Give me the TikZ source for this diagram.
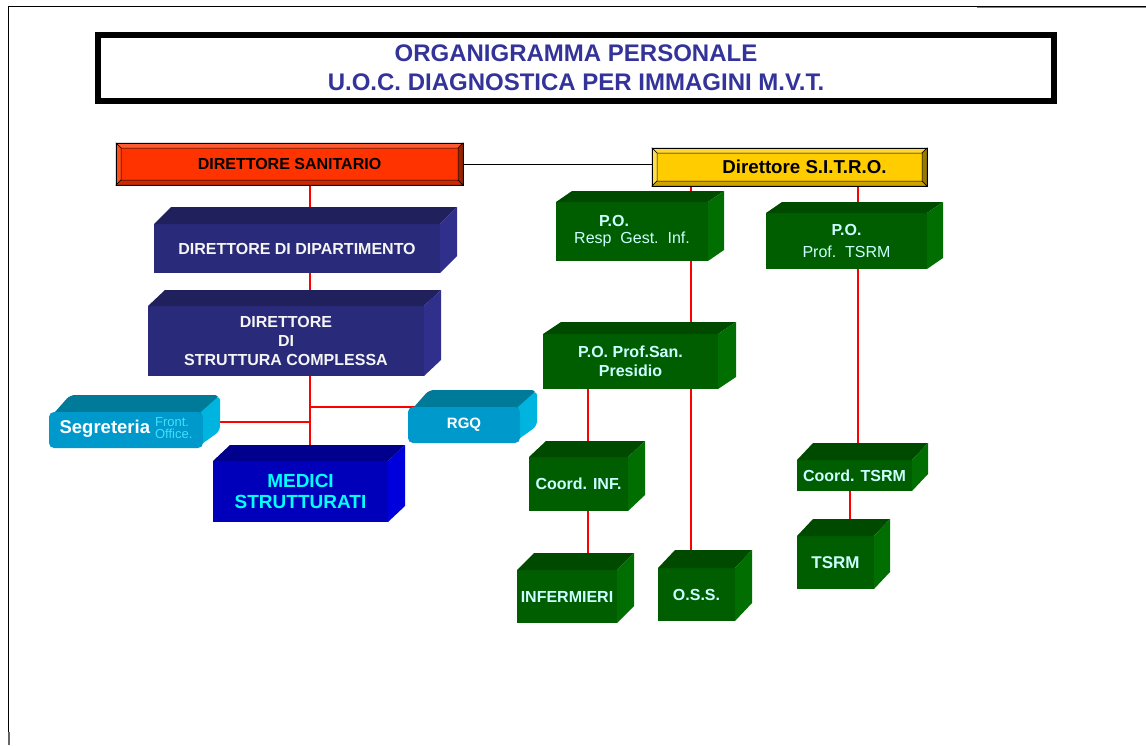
\documentclass[tikz,border=0pt]{standalone}
\usepackage{fontspec}
\setmainfont{Liberation Sans}
\usetikzlibrary{backgrounds,calc}
\definecolor{titleblue}{RGB}{51,51,153}
\definecolor{dsface}{RGB}{255,51,0}
\definecolor{dstop}{RGB}{255,92,51}
\definecolor{dsleft}{RGB}{255,77,26}
\definecolor{dsbot}{RGB}{204,41,0}
\definecolor{dsright}{RGB}{153,34,0}
\definecolor{syface}{RGB}{255,204,0}
\definecolor{sytop}{RGB}{255,214,51}
\definecolor{syleft}{RGB}{255,222,77}
\definecolor{sybot}{RGB}{204,163,0}
\definecolor{syright}{RGB}{153,122,0}
\definecolor{navyfront}{RGB}{42,42,122}
\definecolor{navytop}{RGB}{32,32,92}
\definecolor{navyside}{RGB}{48,48,140}
\definecolor{cyfront}{RGB}{0,153,204}
\definecolor{cytop}{RGB}{0,122,153}
\definecolor{cyside}{RGB}{0,180,224}
\definecolor{cysmall}{RGB}{64,224,255}
\definecolor{bfront}{RGB}{0,0,187}
\definecolor{btop}{RGB}{0,0,140}
\definecolor{bside}{RGB}{0,0,221}
\definecolor{gfront}{RGB}{0,94,0}
\definecolor{gtop}{RGB}{0,74,0}
\definecolor{gside}{RGB}{0,110,0}
\definecolor{gtext}{RGB}{204,255,255}
\definecolor{linered}{RGB}{255,0,0}
\pgfdeclarelayer{lines}
\pgfdeclarelayer{faces}
\pgfsetlayers{lines,faces,main}
\newcommand\fs[2]{\fontsize{#1}{#2}\selectfont}
\newcommand\frontbox[7]{%
  \node[frontbox, #6, minimum width={#4-#2}, minimum height={#5-#3}] (#1) at (#2,#3) {#7};}
\newcommand\cubefaces[5]{%
  \fill[#4] (#1.north west) -- ++(#2,-#3) -- ([shift={(#2,-#3)}]#1.north east) -- (#1.north east) -- cycle;
  \fill[#5] (#1.north east) -- ++(#2,-#3) -- ([shift={(#2,-#3)}]#1.south east) -- (#1.south east) -- cycle;}
\newcommand\roundcubefaces[5]{%
  \begin{pgfonlayer}{faces}
  \fill[#4] ([shift={(6,0)}]#1.north west) [rounded corners=5pt] -- ([shift={(#2+4,-#3)}]#1.north west) -- ([shift={(#2,-#3)}]#1.north east) [sharp corners] -- ([shift={(0,8)}]#1.north east) -- ([shift={(-8,8)}]#1.north east) -- cycle;
  \fill[#5] ([shift={(-8,8)}]#1.north east) -- ([shift={(-2,0)}]#1.north east) [rounded corners=5pt] -- ([shift={(#2,-#3)}]#1.north east) -- ([shift={(#2,-#3)}]#1.south east) [sharp corners] -- ([shift={(-4,-2)}]#1.south east) -- ([shift={(-8,-2)}]#1.south east) -- cycle;
  \end{pgfonlayer}}
\newcommand\bevelframe[6]{%
  \filldraw[#3,draw=black,line width=0.5pt] (#1.north west) -- (#1.north east) -- ([shift={(-#2,#2)}]#1.north east) -- ([shift={(#2,#2)}]#1.north west) -- cycle;
  \filldraw[#4,draw=black,line width=0.5pt] (#1.north west) -- ([shift={(#2,#2)}]#1.north west) -- ([shift={(#2,-#2)}]#1.south west) -- (#1.south west) -- cycle;
  \filldraw[#5,draw=black,line width=0.5pt] (#1.south west) -- ([shift={(#2,-#2)}]#1.south west) -- ([shift={(-#2,-#2)}]#1.south east) -- (#1.south east) -- cycle;
  \filldraw[#6,draw=black,line width=0.5pt] (#1.north east) -- (#1.south east) -- ([shift={(-#2,-#2)}]#1.south east) -- ([shift={(-#2,#2)}]#1.north east) -- cycle;
  \draw[black,line width=0.8pt] (#1.north west) rectangle (#1.south east);}
\tikzset{
  frontbox/.style={inner sep=0pt, outer sep=0pt, anchor=north west, align=center},
  redline/.style={draw=linered, line width=2pt},
  blackline/.style={draw=black, line width=0.8pt},
  navy/.style={fill=navyfront, text={rgb,255:red,245;green,245;blue,245}, font=\fs{16}{19}\bfseries},
  green/.style={fill=gfront, text=gtext, font=\fs{16}{19}\bfseries},
  cyanbox/.style={fill=cyfront, rounded corners=5pt, text=white},
}
\begin{document}
\begin{tikzpicture}[x=1pt,y=-1pt]
\useasboundingbox (0,0) rectangle (1146,745);
% page frame
\draw[black,line width=0.9pt] (8,745) -- (8,6) -- (1146,6);
\draw[gray,line width=1.6pt] (977,7.5) -- (1146,7.5);
\draw[gray!80!black,line width=1.6pt] (9,732) -- (9,745);
% title
\node[draw=black, line width=6pt, minimum width=956, minimum height=66, inner sep=0pt, outer sep=0pt,
      align=center, text=titleblue, font=\fs{24}{29}\bfseries] (title) at (576,68)
      {ORGANIGRAMMA PERSONALE\\U.O.C. DIAGNOSTICA PER IMMAGINI M.V.T.};
% bevel boxes
\frontbox{ds}{116}{143}{463}{185}{fill=dsface, font=\fs{16}{19}\bfseries}{DIRETTORE SANITARIO}
\bevelframe{ds}{5}{dstop}{dsleft}{dsbot}{dsright}
\frontbox{sitro}{652}{148}{927}{186}{fill=syface, font=\fs{18.7}{22}\bfseries}{\hspace*{30pt}Direttore S.I.T.R.O.}
\bevelframe{sitro}{5}{sytop}{syleft}{sybot}{syright}
% navy boxes
\frontbox{ddd}{154}{224}{440}{273}{navy}{DIRETTORE DI DIPARTIMENTO}
\cubefaces{ddd}{17}{17}{navytop}{navyside}
\frontbox{dsc}{148}{306}{424}{376}{navy}{DIRETTORE\\DI\\STRUTTURA COMPLESSA}
\cubefaces{dsc}{17}{16}{navytop}{navyside}
% cyan boxes
\frontbox{seg}{49}{412}{203}{448}{cyanbox}{{\fs{18.5}{20}\bfseries Segreteria}\hspace{5pt}{\fs{13}{13}\color{cysmall}\begin{tabular}{@{}l@{}}Front.\\[-2pt]Office.\end{tabular}}}
\roundcubefaces{seg}{17}{17}{cytop}{cyside}
\frontbox{rgq}{408}{407}{520}{443}{cyanbox, font=\fs{15}{18}\bfseries}{RGQ}
\roundcubefaces{rgq}{17}{17}{cytop}{cyside}
% medici
\frontbox{medici}{213}{461}{388}{522}{fill=bfront, text={rgb,255:red,0;green,255;blue,255}, font=\fs{19}{21}\bfseries}{MEDICI\\STRUTTURATI}
\cubefaces{medici}{17}{16}{btop}{bside}
% green boxes
\frontbox{poresp}{556}{202}{708}{261}{green, font=\fs{16}{17}\bfseries}{P.O.\hspace*{36pt}\\{\mdseries\fs{16}{17}Resp\ \ Gest.\ \ Inf.}}
\cubefaces{poresp}{16}{11}{gtop}{gside}
\frontbox{potsrm}{766}{213}{927}{269}{green, font=\fs{16}{22}\bfseries}{P.O.\\{\mdseries\fs{16}{16}Prof.\ \ TSRM}}
\cubefaces{potsrm}{16}{11}{gtop}{gside}
\frontbox{posan}{543}{334}{718}{389}{green}{P.O. Prof.San.\\Presidio}
\cubefaces{posan}{18}{12}{gtop}{gside}
\frontbox{coordinf}{529}{457}{628}{511}{green}{Coord. INF.}
\cubefaces{coordinf}{17}{16}{gtop}{gside}
\frontbox{infermieri}{517}{570}{617}{623}{green}{INFERMIERI}
\cubefaces{infermieri}{17}{17}{gtop}{gside}
\frontbox{oss}{658}{568}{735}{621}{green}{O.S.S.}
\cubefaces{oss}{17}{18}{gtop}{gside}
\frontbox{coordtsrm}{797}{460}{912}{491}{green}{Coord. TSRM}
\cubefaces{coordtsrm}{16}{17}{gtop}{gside}
\frontbox{tsrm}{797}{536}{874}{589}{green, font=\fs{17}{19}\bfseries}{TSRM}
\cubefaces{tsrm}{16}{17}{gtop}{gside}
% connectors (behind boxes)
\coordinate (mx) at (310,0);
\coordinate (segj) at (310,422);
\coordinate (cx1) at (691,0);
\coordinate (cx2) at (858,0);
\coordinate (cx3) at (588,0);
\coordinate (cx4) at (850,0);
\begin{pgfonlayer}{lines}
\draw[blackline] (ds.east) -- (ds.east -| sitro.west);
\draw[redline] (ds.south -| mx) -- (medici.center -| mx);
\draw[redline] (mx |- rgq.north) -- (rgq.north);
\draw[redline] (segj) -- (segj -| seg.center);
\draw[redline] (sitro.south -| cx1) -- (oss.center -| cx1);
\draw[redline] (sitro.south -| cx2) -- (coordtsrm.center -| cx2);
\draw[redline] (posan.center -| cx3) -- (infermieri.center -| cx3);
\draw[redline] (coordtsrm.center -| cx4) -- (tsrm.center -| cx4);
\end{pgfonlayer}
\end{tikzpicture}
\end{document}
